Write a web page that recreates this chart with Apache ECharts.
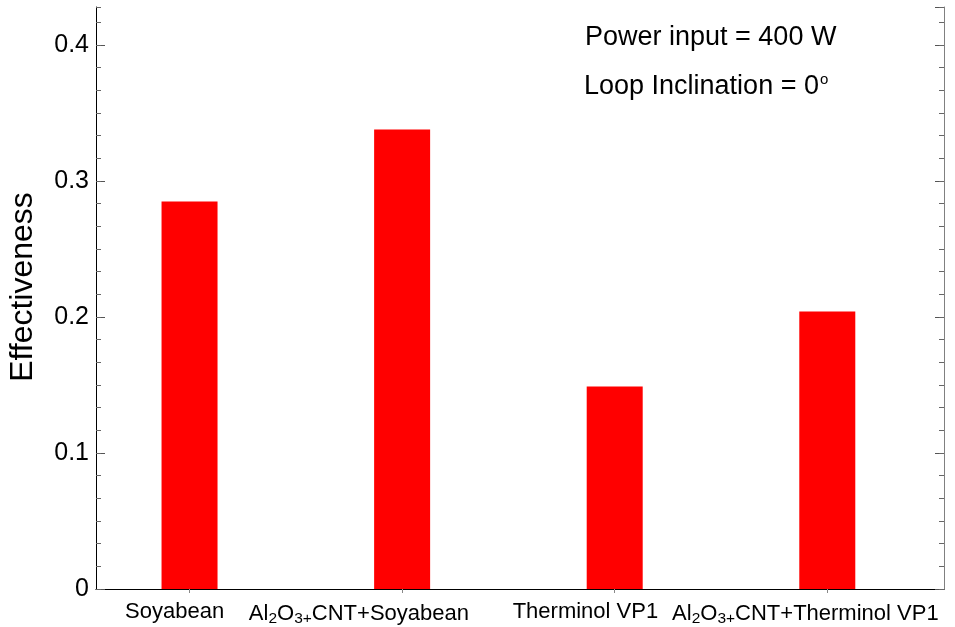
<!DOCTYPE html>
<html>
<head>
<meta charset="utf-8">
<script src="https://cdn.jsdelivr.net/npm/echarts@6/dist/echarts.min.js"></script>
<style>
html,body{margin:0;padding:0;background:#fff;}
#chart{width:955px;height:627px;}
</style>
</head>
<body>
<div id="chart"></div>
<script>
// ---- data ----
const categories = ['Soyabean', 'Al2O3+CNT+Soyabean', 'Therminol VP1', 'Al2O3+CNT+Therminol VP1'];
const categoryPositions = [1, 2, 3, 4];
const effectiveness = [0.285, 0.338, 0.149, 0.204];
const yMajorTicks = [0, 0.1, 0.2, 0.3, 0.4];
const annotationLines = ['Power input = 400 W', 'Loop Inclination = 0'];
const yTitle = 'Effectiveness';

// ---- layout / style config ----
const FONT = "'Liberation Sans', Arial, Helvetica, sans-serif";
const labelAnchors = [0.697, 1.279, 2.52, 3.27]; // left edges of category labels (x data units)
const X_MIN = 0.56, X_MAX = 4.549, Y_MAX = 0.428;

function richName(name) {
  // Turn "Al2O3+" prefix into sub-scripted rich text
  if (name.indexOf('Al2O3+') === 0) {
    return '{n|Al}{s|2}{n|O}{s|3+}{n|' + name.slice(6) + '}';
  }
  return '{n|' + name + '}';
}

const chart = echarts.init(document.getElementById('chart'), null, {renderer: 'canvas'});

const option = {
  backgroundColor: '#ffffff',
  animation: false,
  grid: {left: 96, right: 11, top: 7, bottom: 38, containLabel: false},
  xAxis: [
    {
      type: 'value', position: 'bottom', min: X_MIN, max: X_MAX,
      axisLine: {show: true, lineStyle: {color: '#808080', width: 1}},
      axisTick: {show: false},
      splitLine: {show: false},
      axisLabel: {
        show: true,
        customValues: labelAnchors,
        align: 'left',
        margin: 12,
        hideOverlap: false,
        formatter: function (v) {
          let best = 0, d = 1e9;
          labelAnchors.forEach(function (a, i) { if (Math.abs(a - v) < d) { d = Math.abs(a - v); best = i; } });
          return richName(categories[best]);
        },
        rich: {
          n: {fontFamily: FONT, fontSize: 22, color: '#000'},
          s: {fontFamily: FONT, fontSize: 15.5, color: '#000', padding: [10, 0, 0, 0]}
        }
      }
    },
    {
      type: 'value', position: 'top', min: X_MIN, max: X_MAX,
      axisLine: {show: true, lineStyle: {color: '#000', width: 1}},
      axisTick: {show: true, inside: true, length: 4, customValues: categoryPositions, lineStyle: {color: '#888'}},
      axisLabel: {show: false},
      splitLine: {show: false}
    }
  ],
  yAxis: [
    {
      type: 'value', position: 'left', min: 0, max: Y_MAX, interval: 0.1,
      axisLine: {show: true, lineStyle: {color: '#000', width: 1}},
      axisTick: {show: true, inside: true, length: 9, lineStyle: {color: '#555'}},
      splitLine: {show: false},
      axisLabel: {
        show: true, margin: 7, fontSize: 25, fontFamily: FONT, color: '#000',
        showMaxLabel: false,
        formatter: function (v) {
          let hit = yMajorTicks.find(function (t) { return Math.abs(t - v) < 1e-6; });
          if (hit === undefined) return '';
          return hit === 0 ? '0' : hit.toFixed(1);
        }
      }
    },
    {
      type: 'value', position: 'left', min: 0, max: Y_MAX, interval: 1 / 60,
      axisLine: {show: false},
      axisTick: {show: true, inside: true, length: 5, lineStyle: {color: '#666'}},
      axisLabel: {show: false}, splitLine: {show: false}
    },
    {
      type: 'value', position: 'right', min: 0, max: Y_MAX, interval: 0.1,
      axisLine: {show: true, lineStyle: {color: '#808080', width: 1}},
      axisTick: {show: true, inside: true, length: 9, lineStyle: {color: '#555'}},
      axisLabel: {show: false}, splitLine: {show: false}
    },
    {
      type: 'value', position: 'right', min: 0, max: Y_MAX, interval: 1 / 60,
      axisLine: {show: false},
      axisTick: {show: true, inside: true, length: 5, lineStyle: {color: '#666'}},
      axisLabel: {show: false}, splitLine: {show: false}
    }
  ],
  series: [
    {
      type: 'bar', xAxisIndex: 0, yAxisIndex: 0,
      barWidth: 56,
      itemStyle: {color: '#ff0000'},
      data: categoryPositions.map(function (x, i) { return [x, effectiveness[i]]; })
    }
  ],
  graphic: [
    {
      type: 'text', x: 23, y: 287, rotation: Math.PI / 2,
      style: {text: yTitle, fontFamily: FONT, fontSize: 32, fill: '#000', align: 'center', verticalAlign: 'middle'}
    },
    {
      type: 'text', x: 585, y: 38,
      style: {text: annotationLines[0], fontFamily: FONT, fontSize: 27, fill: '#000', align: 'left', verticalAlign: 'middle'}
    },
    {
      type: 'text', x: 584, y: 87,
      style: {
        text: '{n|' + annotationLines[1] + '}{sup|o}',
        align: 'left', verticalAlign: 'middle',
        rich: {
          n: {fontFamily: FONT, fontSize: 27, fill: '#000', color: '#000'},
          sup: {fontFamily: FONT, fontSize: 15, fill: '#000', color: '#000', padding: [0, 0, 14, 1]}
        }
      }
    }
  ]
};
chart.setOption(option);
</script>
</body>
</html>
